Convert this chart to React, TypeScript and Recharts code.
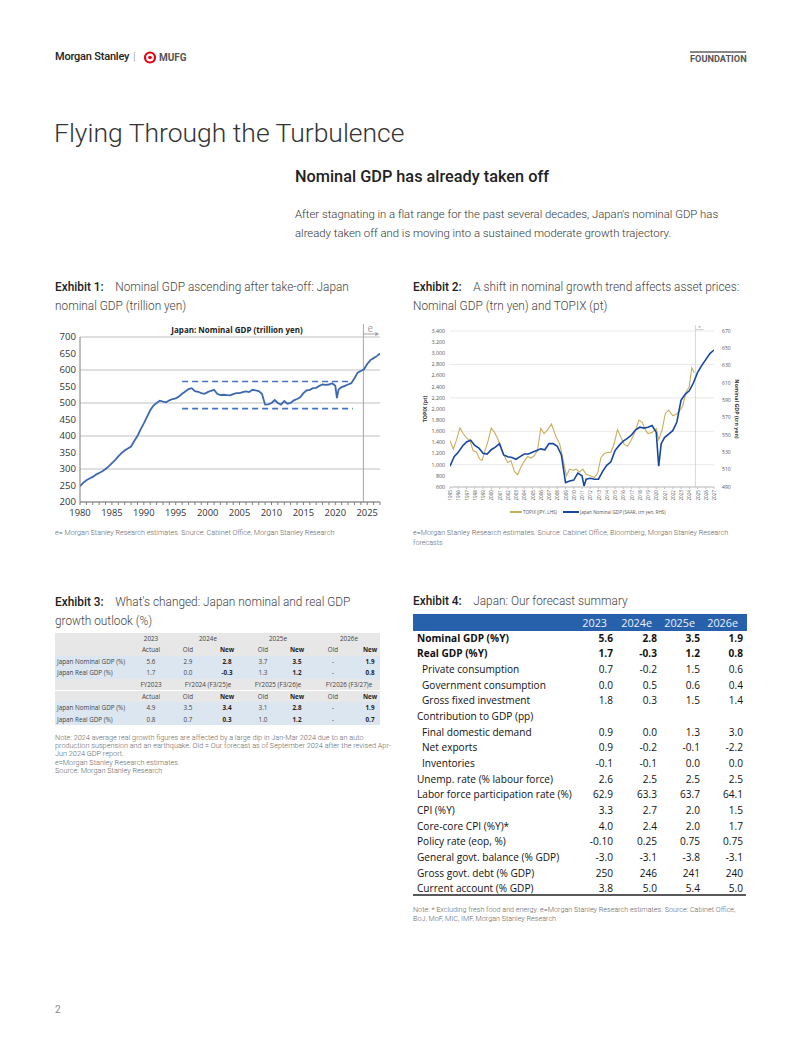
import React from "react";
import {
  LineChart,
  Line,
  XAxis,
  YAxis,
  CartesianGrid,
  ReferenceLine,
} from "recharts";

// ---------- Exhibit 1: Japan nominal GDP (trillion yen) ----------
const gdpYears = [
  1980, 1980.5, 1981, 1981.5, 1982, 1982.5, 1983, 1983.5, 1984, 1984.5,
  1985, 1985.5, 1986, 1986.5, 1987, 1987.5, 1988, 1988.5, 1989, 1989.5,
  1990, 1990.5, 1991, 1991.5, 1992, 1992.5, 1993, 1993.5, 1994, 1994.5,
  1995, 1995.5, 1996, 1996.5, 1997, 1997.5, 1998, 1998.5, 1999, 1999.5,
  2000, 2000.5, 2001, 2001.5, 2002, 2002.5, 2003, 2003.5, 2004, 2004.5,
  2005, 2005.5, 2006, 2006.5, 2007, 2007.5, 2008, 2008.5, 2009, 2009.5,
  2010, 2010.5, 2011, 2011.5, 2012, 2012.5, 2013, 2013.5, 2014, 2014.5,
  2015, 2015.5, 2016, 2016.5, 2017, 2017.5, 2018, 2018.5, 2019, 2019.5,
  2020, 2020.25, 2020.5, 2020.75, 2021, 2021.5, 2022, 2022.5, 2023, 2023.5,
  2024, 2024.5, 2025, 2025.5, 2026, 2026.5, 2027,
];
const gdpValues = [
  248, 258, 266, 271, 276, 283, 288, 293, 300, 308,
  318, 327, 338, 348, 356, 362, 368, 385, 400, 420,
  438, 458, 478, 492, 500, 507, 504, 502, 508, 512,
  514, 520, 528, 535, 542, 545, 536, 534, 530, 528,
  533, 537, 540, 528, 524, 525, 524, 523, 527, 530,
  530, 533, 535, 533, 540, 538, 536, 528, 495, 496,
  500, 509, 500, 495, 506, 498, 500, 508, 512, 517,
  530, 538, 540, 545, 546, 552, 556, 555, 556, 560,
  552, 515, 540, 545, 548, 552, 556, 560, 575, 592,
  597, 602, 618, 630, 636, 642, 650,
];
const ex1TickLabels = [1980, 1985, 1990, 1995, 2000, 2005, 2010, 2015, 2020, 2025];
const ex1YTicks = [200, 250, 300, 350, 400, 450, 500, 550, 600, 650, 700];
const rangeTop = 565;
const rangeBottom = 483;
const rangeFrom = 1996;
const rangeTo = 2022.75;
const ex1EstimateStart = 2024.4;

// ---------- Exhibit 2: TOPIX (LHS) and nominal GDP (RHS) ----------
const topixYears = [
  1995, 1995.4, 1995.8, 1996.2, 1996.6, 1997, 1997.4, 1997.8, 1998.2, 1998.6,
  1998.9, 1999.2, 1999.6, 2000, 2000.4, 2000.8, 2001.2, 2001.6, 2002, 2002.4,
  2002.8, 2003.2, 2003.6, 2004, 2004.4, 2004.8, 2005.2, 2005.6, 2006, 2006.4,
  2006.8, 2007.3, 2007.8, 2008.3, 2008.7, 2009.1, 2009.5, 2009.9, 2010.3, 2010.7,
  2011.1, 2011.5, 2012, 2012.5, 2012.9, 2013.3, 2013.7, 2014.1, 2014.5, 2014.9,
  2015.3, 2015.7, 2016.1, 2016.5, 2016.9, 2017.4, 2017.9, 2018.3, 2018.7, 2019,
  2019.5, 2020, 2020.3, 2020.7, 2021.1, 2021.5, 2022, 2022.4, 2022.8, 2023.2,
  2023.6, 2024, 2024.3, 2024.6,
];
const topixValues = [
  1430, 1280, 1450, 1660, 1560, 1480, 1440, 1250, 1230, 1100,
  1080, 1230, 1420, 1660, 1580, 1460, 1300, 1150, 1040, 1070,
  880, 820, 960, 1060, 1150, 1120, 1160, 1250, 1650, 1560,
  1620, 1730, 1520, 1370, 1100, 800, 920, 900, 920, 870,
  920, 830, 800, 770, 850, 1130, 1200, 1220, 1220, 1380,
  1630, 1500, 1370, 1330, 1420, 1580, 1800, 1760, 1620, 1560,
  1580, 1650, 1450, 1620, 1920, 1980, 1880, 1900, 1960, 2050,
  2300, 2400, 2740, 2650,
];
const ngdpYears = [
  1995, 1995.5, 1996, 1996.5, 1997, 1997.5, 1998, 1998.5, 1999, 1999.5,
  2000, 2000.5, 2001, 2001.5, 2002, 2002.5, 2003, 2003.5, 2004, 2004.5,
  2005, 2005.5, 2006, 2006.5, 2007, 2007.5, 2008, 2008.5, 2009, 2009.5,
  2010, 2010.5, 2011, 2011.25, 2011.5, 2012, 2012.5, 2013, 2013.5, 2014,
  2014.5, 2015, 2015.5, 2016, 2016.5, 2017, 2017.5, 2018, 2018.5, 2019,
  2019.5, 2020, 2020.3, 2020.6, 2021, 2021.5, 2022, 2022.5, 2023, 2023.5,
  2024, 2024.5, 2025, 2025.5, 2026, 2026.5, 2027,
];
const ngdpValues = [
  514, 525, 530, 537, 542, 544, 538, 535, 529, 528,
  533, 536, 540, 527, 525, 524, 522, 525, 528, 528,
  530, 532, 534, 533, 540, 540, 537, 527, 495, 497,
  498, 506, 503, 491, 499, 500, 499, 499, 508, 515,
  519, 532, 538, 543, 546, 550, 556, 559, 558, 559,
  561, 553, 514, 540, 547, 551, 555, 565, 590, 597,
  601, 610, 622, 630, 637, 644, 648,
];
const ex2YearLabels = [
  1995, 1996, 1997, 1998, 1999, 2000, 2001, 2002, 2003, 2004, 2005,
  2006, 2007, 2008, 2009, 2010, 2011, 2012, 2013, 2014, 2015, 2016,
  2017, 2018, 2019, 2020, 2021, 2022, 2023, 2024, 2025, 2026, 2027,
];
const topixTicks = [600, 800, 1000, 1200, 1400, 1600, 1800, 2000, 2200, 2400, 2600, 2800, 3000, 3200, 3400];
const ngdpTicks = [490, 500, 510, 520, 530, 540, 550, 560, 570, 580, 590, 600, 610, 620, 630, 640, 650, 660, 670];
const ex2EstimateStart = 2024.75;

// ---------- Exhibit 3: what's changed ----------
const ex3Rows = ["Japan Nominal GDP (%)", "Japan Real GDP (%)"];
const ex3CalNominal = ["5.6", "2.9", "2.8", "3.7", "3.5", "-", "1.9"];
const ex3CalReal = ["1.7", "0.0", "-0.3", "1.3", "1.2", "-", "0.8"];
const ex3FyNominal = ["4.9", "3.5", "3.4", "3.1", "2.8", "-", "1.9"];
const ex3FyReal = ["0.8", "0.7", "0.3", "1.0", "1.2", "-", "0.7"];
const ex3CalYears = ["2023", "2024e", "2025e", "2026e"];
const ex3FyYears = ["FY2023", "FY2024 (F3/25)e", "FY2025 (F3/26)e", "FY2026 (F3/27)e"];

// ---------- Exhibit 4: forecast summary ----------
const fcYears = ["2023", "2024e", "2025e", "2026e"];
const fcLabels = [
  "Nominal GDP (%Y)",
  "Real GDP (%Y)",
  "Private consumption",
  "Government consumption",
  "Gross fixed investment",
  "Contribution to GDP (pp)",
  "Final domestic demand",
  "Net exports",
  "Inventories",
  "Unemp. rate (% labour force)",
  "Labor force participation rate (%)",
  "CPI (%Y)",
  "Core-core CPI (%Y)*",
  "Policy rate (eop, %)",
  "General govt. balance (% GDP)",
  "Gross govt. debt (% GDP)",
  "Current account (% GDP)",
];
const fc2023 = ["5.6", "1.7", "0.7", "0.0", "1.8", "", "0.9", "0.9", "-0.1", "2.6", "62.9", "3.3", "4.0", "-0.10", "-3.0", "250", "3.8"];
const fc2024 = ["2.8", "-0.3", "-0.2", "0.5", "0.3", "", "0.0", "-0.2", "-0.1", "2.5", "63.3", "2.7", "2.4", "0.25", "-3.1", "246", "5.0"];
const fc2025 = ["3.5", "1.2", "1.5", "0.6", "1.5", "", "1.3", "-0.1", "0.0", "2.5", "63.7", "2.0", "2.0", "0.75", "-3.8", "241", "5.4"];
const fc2026 = ["1.9", "0.8", "0.6", "0.4", "1.4", "", "3.0", "-2.2", "0.0", "2.5", "64.1", "1.5", "1.7", "0.75", "-3.1", "240", "5.0"];
const fcBold = [0, 1];
const fcIndented = [2, 3, 4, 6, 7, 8];

const gdpData = gdpYears.map((year, i) => ({ year, gdp: gdpValues[i] }));
const topixData = topixYears.map((year, i) => ({ year, topix: topixValues[i] }));
const ngdpData = ngdpYears.map((year, i) => ({ year, ngdp: ngdpValues[i] }));
const ex1Minor = Array.from({ length: 48 }, (_, i) => 1980 + i);

const grey = "#555";
const noteStyle: React.CSSProperties = {
  position: "absolute",
  fontSize: 7.2,
  fontWeight: 300,
  color: "#666",
  whiteSpace: "nowrap",
};

function Ex1Estimate(props: any) {
  const { x, y } = props.viewBox;
  return (
    <g>
      <line x1={x} y1={y - 13} x2={x} y2={y} stroke="#A6A6A6" />
      <text x={x + 4} y={y - 5} fontSize={10} fill="#A0A0A0" fontFamily="Open Sans">
        e
      </text>
      <line x1={x} y1={y - 3} x2={x + 13} y2={y - 3} stroke="#A0A0A0" />
      <path d={`M${x + 16},${y - 3} l-4,-2 v4 z`} fill="#A0A0A0" />
    </g>
  );
}

function Ex2Estimate(props: any) {
  const { x, y } = props.viewBox;
  return (
    <g>
      <line x1={x} y1={y - 6} x2={x} y2={y} stroke="#BFBFBF" strokeWidth={0.6} />
      <text x={x + 3} y={y - 3} fontSize={4} fill="#888">
        e
      </text>
      <line x1={x} y1={y - 1.5} x2={x + 8} y2={y - 1.5} stroke="#888" strokeWidth={0.4} />
    </g>
  );
}

function YearTick(props: any) {
  const { x, y, payload } = props;
  return (
    <text
      x={x}
      y={y}
      transform={`rotate(-90 ${x} ${y})`}
      textAnchor="end"
      dominantBaseline="central"
      fontSize={4.6}
      fill="#555"
      fontFamily="Open Sans"
    >
      {payload.value}
    </text>
  );
}

function ExhibitTitle({ left, top, num, lines }: { left: number; top: number; num: string; lines: string[] }) {
  return (
    <div style={{ position: "absolute", left, top, fontSize: 11.85, lineHeight: "19px", color: "#444", whiteSpace: "nowrap" }}>
      <span style={{ fontWeight: 500, color: "#222" }}>Exhibit {num}:</span>
      <span style={{ fontWeight: 300 }}>&nbsp;&nbsp;&nbsp;&nbsp;{lines[0]}</span>
      {lines[1] && (
        <>
          <br />
          <span style={{ fontWeight: 300 }}>{lines[1]}</span>
        </>
      )}
    </div>
  );
}

function Exhibit1() {
  return (
    <div style={{ position: "absolute", left: 55, top: 320 }}>
      <LineChart width={330} height={206} data={gdpData} margin={{ top: 17, right: 5, bottom: 0, left: 0 }}>
        <CartesianGrid vertical={false} stroke="#BFBFBF" />
        <XAxis
          dataKey="year"
          type="number"
          domain={[1980, 2027]}
          ticks={ex1Minor}
          interval={0}
          allowDataOverflow
          tickFormatter={(v: number) => (ex1TickLabels.includes(v) ? String(v) : "")}
          tick={{ fontSize: 9.4, fill: "#333", fontFamily: "Open Sans" }}
          tickSize={3}
          tickMargin={4}
          stroke="#7F7F7F"
          height={24}
        />
        <YAxis
          domain={[200, 700]}
          ticks={ex1YTicks}
          width={25}
          tickSize={0}
          tickMargin={4}
          tick={{ fontSize: 9.6, fill: "#333", fontFamily: "Open Sans" }}
          stroke="#7F7F7F"
        />
        <ReferenceLine
          segment={[{ x: rangeFrom, y: rangeTop }, { x: rangeTo, y: rangeTop }]}
          stroke="#4472C4"
          strokeWidth={1.6}
          strokeDasharray="6 4"
        />
        <ReferenceLine
          segment={[{ x: rangeFrom, y: rangeBottom }, { x: rangeTo, y: rangeBottom }]}
          stroke="#4472C4"
          strokeWidth={1.6}
          strokeDasharray="6 4"
        />
        <ReferenceLine x={ex1EstimateStart} stroke="#A6A6A6" label={<Ex1Estimate />} ifOverflow="visible" />
        <Line dataKey="gdp" stroke="#3C68B1" strokeWidth={1.8} dot={false} isAnimationActive={false} />
      </LineChart>
      <div
        style={{
          position: "absolute",
          left: 110,
          width: 144,
          top: 4,
          textAlign: "center",
          fontSize: 8,
          fontWeight: 700,
          fontFamily: "Open Sans",
          color: "#222",
          whiteSpace: "nowrap",
        }}
      >
        Japan: Nominal GDP (trillion yen)
      </div>
    </div>
  );
}

function Exhibit2() {
  const axisLabel = { fontSize: 5.3, fontWeight: 700, fill: "#333", textAnchor: "middle" as const, fontFamily: "Open Sans" };
  return (
    <div style={{ position: "absolute", left: 410, top: 322 }}>
      <LineChart width={335} height={190} margin={{ top: 9, right: 0, bottom: 0, left: 0 }}>
        <CartesianGrid vertical={false} stroke="#D9D9D9" yAxisId="topix" strokeWidth={0.6} />
        <XAxis
          dataKey="year"
          type="number"
          domain={[1995, 2027]}
          ticks={ex2YearLabels}
          interval={0}
          allowDataOverflow
          tick={<YearTick />}
          tickSize={2}
          tickMargin={1}
          stroke="#BFBFBF"
          height={25}
        />
        <YAxis
          yAxisId="topix"
          domain={[600, 3400]}
          ticks={topixTicks}
          width={40}
          axisLine={false}
          tickLine={false}
          tickSize={0}
          tickMargin={5}
          tickFormatter={(v: number) => v.toLocaleString("en-US")}
          tick={{ fontSize: 5.3, fill: "#555", fontFamily: "Open Sans" }}
          label={{ value: "TOPIX (pt)", angle: -90, position: "insideLeft", offset: 15, style: axisLabel }}
        />
        <YAxis
          yAxisId="ngdp"
          orientation="right"
          domain={[490, 670]}
          ticks={ngdpTicks}
          width={31}
          axisLine={false}
          tickLine={false}
          tickSize={0}
          tickMargin={8}
          tick={{ fontSize: 5.1, fill: "#555", fontFamily: "Open Sans" }}
          label={{ value: "Nominal GDP (trn yen)", angle: 90, position: "insideRight", offset: 8, style: axisLabel }}
        />
        <ReferenceLine
          x={ex2EstimateStart}
          yAxisId="topix"
          stroke="#BFBFBF"
          strokeWidth={0.6}
          label={<Ex2Estimate />}
          ifOverflow="visible"
        />
        <Line
          yAxisId="topix"
          data={topixData}
          dataKey="topix"
          stroke="#C9AE5D"
          strokeWidth={1.1}
          dot={false}
          isAnimationActive={false}
        />
        <Line
          yAxisId="ngdp"
          data={ngdpData}
          dataKey="ngdp"
          stroke="#17479E"
          strokeWidth={1.6}
          dot={false}
          isAnimationActive={false}
        />
      </LineChart>
      <div
        style={{
          position: "absolute",
          left: 100,
          top: 187,
          fontSize: 4.6,
          fontFamily: "Open Sans",
          color: "#555",
          whiteSpace: "nowrap",
          display: "flex",
          alignItems: "center",
        }}
      >
        <span style={{ display: "inline-block", width: 12, height: 1.2, background: "#C9AE5D", marginRight: 1 }} />
        <span>TOPIX (JPY, LHS)</span>
        <span style={{ display: "inline-block", width: 16, height: 1.6, background: "#17479E", margin: "0 1px 0 6px" }} />
        <span>Japan Nominal GDP (SAAR, trn yen, RHS)</span>
      </div>
    </div>
  );
}

function Exhibit3() {
  const top = 632.5;
  const rh = 11.6;
  const cols = [151, 188, 227, 263, 297, 333, 370];
  const merged = [208, 278, 349];
  const rowBg = ["#E7E7E7", "#E7E7E7", "#DCE6F1", "#DCE6F1", "#E7E7E7", "#E7E7E7", "#DCE6F1", "#DCE6F1"];
  const cell = (x: number, text: string, bold: boolean, key: string, w = 40) => (
    <div
      key={key}
      style={{
        position: "absolute",
        left: x - w / 2,
        width: w,
        textAlign: "center",
        fontWeight: bold ? 700 : 400,
        color: bold ? "#222" : "#444",
      }}
    >
      {text}
    </div>
  );
  const subHeader = () => (
    <>
      {cell(cols[0], "Actual", false, "a")}
      {[1, 3, 5].map((c) => cell(cols[c], "Old", false, "o" + c))}
      {[2, 4, 6].map((c) => cell(cols[c], "New", true, "n" + c))}
    </>
  );
  const dataRows = [ex3CalNominal, ex3CalReal, ex3FyNominal, ex3FyReal];
  const rowDefs: { kind: string; idx: number }[] = [
    { kind: "years", idx: 0 },
    { kind: "sub", idx: 0 },
    { kind: "data", idx: 0 },
    { kind: "data", idx: 1 },
    { kind: "years", idx: 1 },
    { kind: "sub", idx: 1 },
    { kind: "data", idx: 2 },
    { kind: "data", idx: 3 },
  ];
  return (
    <div style={{ position: "absolute", left: 0, top: 0, fontFamily: "Open Sans", fontSize: 6.3 }}>
      {rowDefs.map((r, i) => (
        <div
          key={i}
          style={{
            position: "absolute",
            left: 55,
            top: top + i * rh,
            width: 325,
            height: rh,
            lineHeight: rh + "px",
            background: rowBg[i],
            whiteSpace: "nowrap",
          }}
        >
          <div style={{ position: "absolute", left: -55, top: 0, width: 802, height: rh }}>
            {r.kind === "years" &&
              (r.idx === 0 ? ex3CalYears : ex3FyYears).map((t, k) =>
                k === 0 ? cell(cols[0], t, false, "y" + k) : cell(merged[k - 1], t, false, "y" + k, 60)
              )}
            {r.kind === "sub" && subHeader()}
            {r.kind === "data" && (
              <>
                <div style={{ position: "absolute", left: 57, color: "#444" }}>{ex3Rows[r.idx % 2]}</div>
                {dataRows[r.idx].map((v, k) => cell(cols[k], v, k === 2 || k === 4 || k === 6, "d" + k))}
              </>
            )}
          </div>
        </div>
      ))}
    </div>
  );
}

function Exhibit4() {
  const rowTop = 630.5;
  const rh = 15.68;
  const valueRight = [613, 657, 700, 743];
  const headRight = [607, 652, 695, 738];
  const cols = [fc2023, fc2024, fc2025, fc2026];
  return (
    <div style={{ position: "absolute", left: 0, top: 0, fontFamily: "Open Sans", fontSize: 10.1, color: "#111" }}>
      <div style={{ position: "absolute", left: 413, top: 614, width: 334, height: 17, background: "#2761AC" }} />
      {fcYears.map((y, k) => (
        <div
          key={y}
          style={{
            position: "absolute",
            left: headRight[k] - 50,
            width: 50,
            top: 614,
            lineHeight: "17px",
            textAlign: "right",
            color: "#EEF2F8",
            fontSize: 10.8,
          }}
        >
          {y}
        </div>
      ))}
      {fcLabels.map((label, i) => {
        const bold = fcBold.includes(i);
        return (
          <div key={label} style={{ position: "absolute", left: 0, top: rowTop + i * rh, height: rh, lineHeight: rh + "px", width: 802 }}>
            <div
              style={{
                position: "absolute",
                left: fcIndented.includes(i) ? 422 : 417,
                fontWeight: bold ? 700 : 400,
                whiteSpace: "nowrap",
              }}
            >
              {label}
            </div>
            {cols.map((c, k) => (
              <div
                key={k}
                style={{
                  position: "absolute",
                  left: valueRight[k] - 40,
                  width: 40,
                  textAlign: "right",
                  fontWeight: bold ? 700 : 400,
                }}
              >
                {c[i]}
              </div>
            ))}
          </div>
        );
      })}
      <div style={{ position: "absolute", left: 413, top: 894, width: 333, height: 2, background: "#595959" }} />
    </div>
  );
}

export default function App() {
  return (
    <div
      style={{
        position: "absolute",
        left: 0,
        top: 0,
        width: 802,
        height: 1037,
        background: "#fff",
        fontFamily: "Roboto, sans-serif",
        overflow: "hidden",
      }}
    >
      {/* header */}
      <div style={{ position: "absolute", left: 55, top: 50, fontSize: 11, lineHeight: "14px", fontWeight: 500, color: "#222", letterSpacing: -0.2 }}>
        Morgan Stanley
      </div>
      <div style={{ position: "absolute", left: 133, top: 50, fontSize: 11, lineHeight: "14px", color: "#aaa" }}>|</div>
      <svg style={{ position: "absolute", left: 143, top: 51 }} width={14} height={13}>
        <circle cx={7} cy={6.5} r={5} fill="none" stroke="#E60012" strokeWidth={2.2} />
        <circle cx={7} cy={6.5} r={1.8} fill="#E60012" />
      </svg>
      <div style={{ position: "absolute", left: 159, top: 51, fontSize: 10, lineHeight: "13px", fontWeight: 700, color: grey }}>
        MUFG
      </div>
      <div style={{ position: "absolute", left: 690, top: 51, width: 56, height: 2, background: "#888" }} />
      <div style={{ position: "absolute", left: 690, top: 53, fontSize: 9.2, lineHeight: "11px", fontWeight: 700, color: grey }}>
        FOUNDATION
      </div>

      {/* title and intro */}
      <div style={{ position: "absolute", left: 54, top: 117, fontSize: 26.5, lineHeight: "32px", fontWeight: 300, color: "#333", whiteSpace: "nowrap" }}>
        Flying Through the Turbulence
      </div>
      <div style={{ position: "absolute", left: 295, top: 167, fontSize: 16.3, lineHeight: "20px", fontWeight: 500, color: "#222", whiteSpace: "nowrap" }}>
        Nominal GDP has already taken off
      </div>
      <div style={{ position: "absolute", left: 295, top: 204.5, fontSize: 11.35, lineHeight: "19px", fontWeight: 300, color: "#333", whiteSpace: "nowrap" }}>
        After stagnating in a flat range for the past several decades, Japan's nominal GDP has
        <br />
        already taken off and is moving into a sustained moderate growth trajectory.
      </div>

      {/* Exhibit 1 */}
      <ExhibitTitle left={55} top={277.5} num="1" lines={["Nominal GDP ascending after take-off: Japan", "nominal GDP (trillion yen)"]} />
      <Exhibit1 />
      <div style={{ ...noteStyle, left: 55, top: 528, lineHeight: "10px" }}>
        e= Morgan Stanley Research estimates. Source: Cabinet Office, Morgan Stanley Research
      </div>

      {/* Exhibit 2 */}
      <ExhibitTitle left={413} top={277.5} num="2" lines={["A shift in nominal growth trend affects asset prices:", "Nominal GDP (trn yen) and TOPIX (pt)"]} />
      <Exhibit2 />
      <div style={{ ...noteStyle, left: 413, top: 528.2, lineHeight: "9.7px" }}>
        e=Morgan Stanley Research estimates. Source: Cabinet Office, Bloomberg, Morgan Stanley Research
        <br />
        forecasts
      </div>

      {/* Exhibit 3 */}
      <ExhibitTitle left={55} top={592.5} num="3" lines={["What's changed: Japan nominal and real GDP", "growth outlook (%)"]} />
      <Exhibit3 />
      <div style={{ ...noteStyle, fontSize: 7.3, left: 55, top: 733.8, lineHeight: "8.3px" }}>
        Note: 2024 average real growth figures are affected by a large dip in Jan-Mar 2024 due to an auto
        <br />
        production suspension and an earthquake. Old = Our forecast as of September 2024 after the revised Apr-
        <br />
        Jun 2024 GDP report.
        <br />
        e=Morgan Stanley Research estimates.
        <br />
        Source: Morgan Stanley Research
      </div>

      {/* Exhibit 4 */}
      <ExhibitTitle left={413} top={591.5} num="4" lines={["Japan: Our forecast summary"]} />
      <Exhibit4 />
      <div style={{ ...noteStyle, left: 413, top: 906, lineHeight: "8.7px" }}>
        Note: * Excluding fresh food and energy. e=Morgan Stanley Research estimates. Source: Cabinet Office,
        <br />
        BoJ, MoF, MIC, IMF, Morgan Stanley Research
      </div>

      <div style={{ position: "absolute", left: 55, top: 1003, fontSize: 10, lineHeight: "14px", color: "#888" }}>2</div>
    </div>
  );
}
